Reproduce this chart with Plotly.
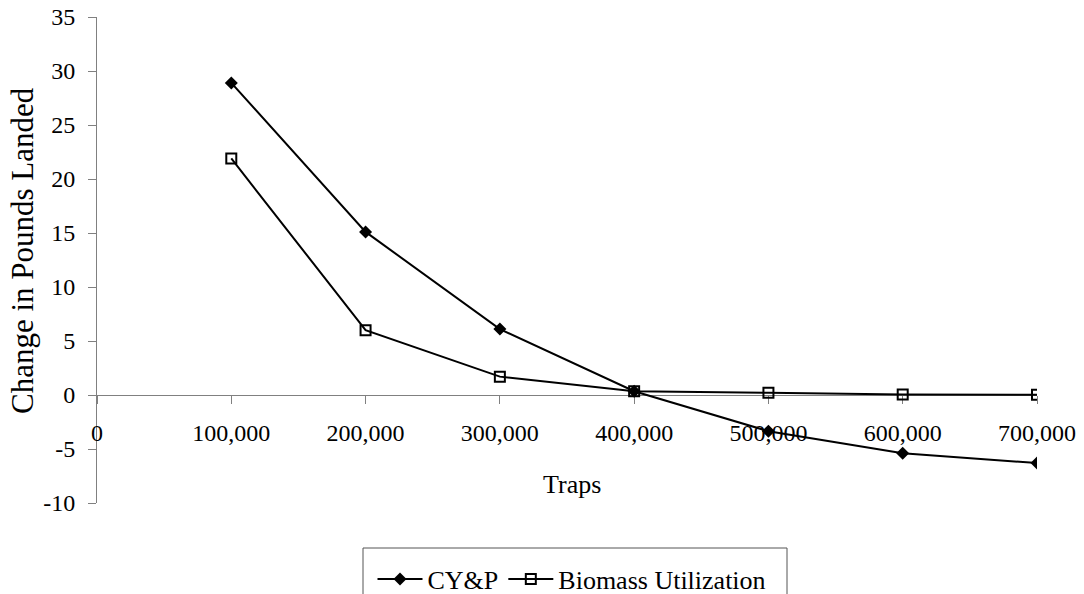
import plotly.graph_objects as go

# Traps in the fishery and the change in pounds landed for each model
traps = [100000, 200000, 300000, 400000, 500000, 600000, 700000]
cyp = [28.9, 15.1, 6.1, 0.35, -3.35, -5.4, -6.3]
biomass = [21.9, 6.0, 1.7, 0.35, 0.2, 0.05, 0.03]

x_ticks = [0, 100000, 200000, 300000, 400000, 500000, 600000, 700000]
x_tick_labels = ["0", "100,000", "200,000", "300,000", "400,000",
                 "500,000", "600,000", "700,000"]
y_ticks = [-10, -5, 0, 5, 10, 15, 20, 25, 30, 35]
y_tick_labels = ["-10", "-5", "0", "5", "10", "15", "20", "25", "30", "35"]

W, H = 1084, 594
ML, MR, MT, MB = 97, 47, 17, 91
PW, PH = W - ML - MR, H - MT - MB

FONT = "Liberation Serif, Times New Roman, serif"
AXIS_GREY = "#808080"
Y_MIN, Y_MAX = -10, 35


def px_x(px):
    return (px - ML) / PW


def px_y(py):
    return (H - MB - py) / PH


fig = go.Figure()
fig.add_trace(go.Scatter(
    x=traps, y=cyp, name="CY&P", mode="lines+markers",
    line=dict(color="black", width=2),
    marker=dict(symbol="diamond", size=10, color="black"),
))
fig.add_trace(go.Scatter(
    x=traps, y=biomass, name="Biomass Utilization", mode="lines+markers",
    line=dict(color="black", width=2),
    marker=dict(symbol="square-open", size=10, color="black",
                line=dict(color="black", width=2)),
))

zero_pos = (0 - Y_MIN) / (Y_MAX - Y_MIN)

common_x = dict(range=[0, 700000], tickvals=x_ticks, showgrid=False,
                zeroline=False, anchor="free", position=zero_pos,
                tickcolor=AXIS_GREY, tickwidth=1, ticklen=8,
                layer="below traces", fixedrange=True)
common_y = dict(range=[Y_MIN, Y_MAX], tickvals=y_ticks, showgrid=False,
                zeroline=False, tickcolor=AXIS_GREY, tickwidth=1, ticklen=8,
                layer="below traces", fixedrange=True)

fig.update_layout(
    width=W, height=H,
    margin=dict(l=ML, r=MR, t=MT, b=MB, autoexpand=False),
    paper_bgcolor="white", plot_bgcolor="white",
    font=dict(family=FONT, size=24, color="black"),
    showlegend=True,
    xaxis=dict(**common_x, ticks="outside", ticktext=x_tick_labels,
               showline=True, linecolor=AXIS_GREY, linewidth=1,
               tickfont=dict(family=FONT, size=24, color="black"),
               ticklabelstandoff=8),
    xaxis2=dict(**common_x, overlaying="x", ticks="inside",
                showticklabels=False, showline=False),
    yaxis=dict(**common_y, ticks="outside", ticktext=y_tick_labels,
               showline=True, linecolor=AXIS_GREY, linewidth=1,
               tickfont=dict(family=FONT, size=24, color="black"),
               ticklabelstandoff=8),
    yaxis2=dict(**common_y, overlaying="y", anchor="x", ticks="inside",
                showticklabels=False, showline=False),
    legend=dict(orientation="h", xref="container", yref="container",
                x=572 / W, xanchor="center", y=1 - 579 / H, yanchor="middle",
                bgcolor="rgba(0,0,0,0)", borderwidth=0,
                itemwidth=45,
                font=dict(family=FONT, size=26, color="black")),
    annotations=[
        dict(text="Traps", xref="paper", yref="paper",
             x=px_x(572), y=px_y(484), xanchor="center", yanchor="middle",
             showarrow=False, font=dict(family=FONT, size=26, color="black")),
        dict(text="Change in Pounds Landed", xref="paper", yref="paper",
             x=px_x(22), y=px_y(251), xanchor="center", yanchor="middle",
             textangle=-90, showarrow=False,
             font=dict(family=FONT, size=31, color="black")),
    ],
    shapes=[
        dict(type="rect", xref="paper", yref="paper",
             x0=px_x(363), x1=px_x(787), y0=px_y(548), y1=px_y(630),
             line=dict(color="#555555", width=1), fillcolor="rgba(0,0,0,0)"),
    ],
)

fig.write_html("out.html")
